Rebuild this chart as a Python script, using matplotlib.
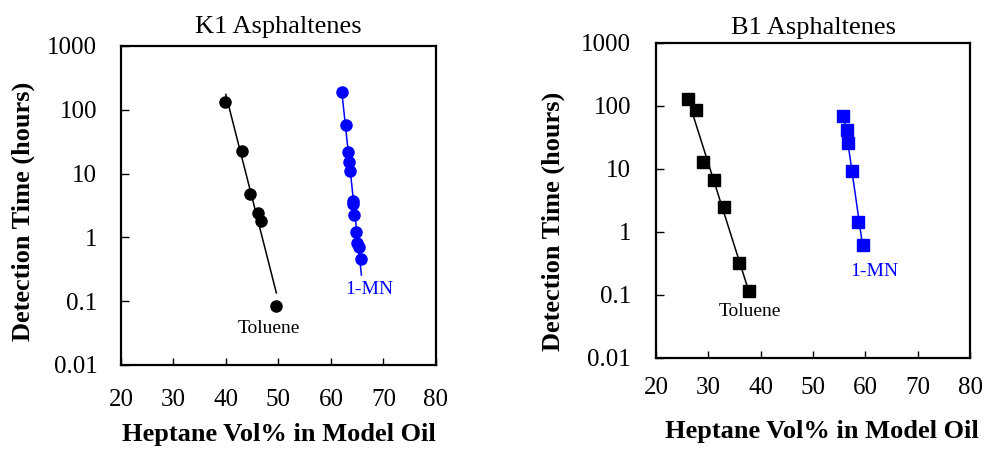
import matplotlib
matplotlib.use("Agg")
import matplotlib.pyplot as plt
import matplotlib.ticker as ticker
import numpy as np

plt.rcParams["font.family"] = ["Liberation Serif", "DejaVu Serif"]

# K1 asphaltenes: heptane vol% vs detection time (hours)
k1_tol_x = [39.85, 43.15, 44.6, 46.1, 46.6, 49.6]
k1_tol_t = [134, 22.6, 4.74, 2.44, 1.81, 0.084]
k1_mn_x = [62.12, 62.88, 63.26, 63.51, 63.70, 64.22, 64.27, 64.47, 64.85, 64.98, 65.29, 65.74]
k1_mn_t = [188, 57.8, 21.8, 15.2, 11.1, 3.72, 3.30, 2.24, 1.20, 0.826, 0.70, 0.46]

# B1 asphaltenes
b1_tol_x = [26.06, 27.59, 28.93, 31.03, 32.94, 35.81, 37.84]
b1_tol_t = [129, 85.4, 12.9, 6.6, 2.49, 0.322, 0.116]
b1_mn_x = [55.76, 56.52, 56.71, 57.48, 58.57, 59.58]
b1_mn_t = [70.2, 41.6, 26.2, 9.4, 1.44, 0.62]

# x-span of each exponential trend line
k1_tol_span = (39.97, 49.6)
k1_mn_span = (62.1, 65.8)
b1_tol_span = (27.0, 37.46)
b1_mn_span = (55.9, 59.4)

y_ticks = [0.01, 0.1, 1, 10, 100, 1000]
x_ticks = [20, 30, 40, 50, 60, 70, 80]


def trend(ax, x, t, span, color):
    # straight line in log space, like a spreadsheet exponential trendline
    slope, icpt = np.polyfit(x, np.log10(t), 1)
    xs = np.array(span)
    ax.plot(xs, 10 ** (icpt + slope * xs), color=color, lw=1.1, zorder=2)


def style_axes(ax, title, title_pad, xpad, ypad):
    ax.set_xlim(20, 80)
    ax.set_yscale("log")
    ax.set_ylim(0.01, 1000)
    ax.set_xticks(x_ticks)
    ax.set_yticks(y_ticks)
    ax.yaxis.set_major_formatter(ticker.FuncFormatter(lambda v, _: f"{v:g}"))
    ax.yaxis.set_minor_locator(ticker.NullLocator())
    ax.tick_params(axis="x", direction="in", length=5, width=1, labelsize=18, pad=xpad)
    ax.tick_params(axis="y", direction="in", length=6, width=1, labelsize=18, pad=ypad)
    for sp in ax.spines.values():
        sp.set_linewidth(1.6)
    ax.set_title(title, fontsize=19, pad=title_pad)
    ax.set_xlabel("Heptane Vol% in Model Oil", fontsize=19, fontweight="bold", va="center")
    ax.set_ylabel("Detection Time (hours)", fontsize=19, fontweight="bold", va="center")


fig = plt.figure(figsize=(9.85, 4.49), dpi=100)
ax1 = fig.add_axes([0.1228, 0.1871, 0.3198, 0.7105])
ax2 = fig.add_axes([0.666, 0.2027, 0.3188, 0.7016])

# left panel
trend(ax1, k1_tol_x, k1_tol_t, k1_tol_span, "black")
trend(ax1, k1_mn_x, k1_mn_t, k1_mn_span, "blue")
ax1.plot(k1_tol_x, k1_tol_t, "o", color="black", ms=8, zorder=3)
ax1.plot(k1_mn_x, k1_mn_t, "o", color="blue", ms=8, zorder=3)
ax1.text(48.2, 0.038, "Toluene", fontsize=14, ha="center", va="center")
ax1.text(67.3, 0.15, "1-MN", fontsize=14, color="blue", ha="center", va="center")
style_axes(ax1, "K1 Asphaltenes", 9.4, 17, 17)
ax1.xaxis.set_label_coords(0.502, -0.219)
ax1.yaxis.set_label_coords(-0.311, 0.483)

# right panel
trend(ax2, b1_tol_x, b1_tol_t, b1_tol_span, "black")
trend(ax2, b1_mn_x, b1_mn_t, b1_mn_span, "blue")
ax2.plot(b1_tol_x, b1_tol_t, "s", color="black", ms=8.5, zorder=3)
ax2.plot(b1_mn_x, b1_mn_t, "s", color="blue", ms=8.5, zorder=3)
ax2.text(38.0, 0.054, "Toluene", fontsize=14, ha="center", va="center")
ax2.text(61.8, 0.24, "1-MN", fontsize=14, color="blue", ha="center", va="center")
style_axes(ax2, "B1 Asphaltenes", 6.5, 14, 18)
ax2.xaxis.set_label_coords(0.529, -0.232)
ax2.yaxis.set_label_coords(-0.328, 0.435)

fig.savefig("out.png", dpi=100)
